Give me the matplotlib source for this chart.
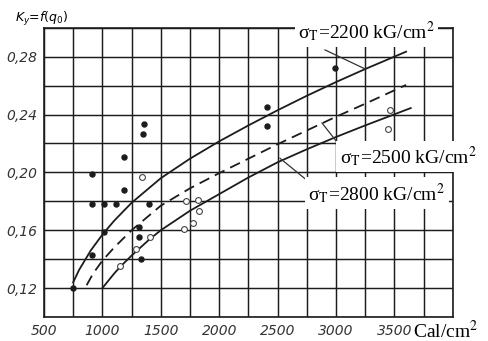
import matplotlib
matplotlib.use("Agg")
import matplotlib.pyplot as plt
from matplotlib import font_manager
import numpy as np

# curves: heat load q0 [Cal/cm^2] vs K_y
q_2200 = [750, 800, 900, 1000, 1100, 1250, 1500, 1750, 2000, 2250, 2500, 2750, 3000, 3250, 3600]
k_2200 = [0.124, 0.1325, 0.146, 0.157, 0.1665, 0.179, 0.196, 0.2095, 0.2215, 0.2325, 0.243, 0.253, 0.2625, 0.2715, 0.2835]

q_2500 = [865, 920, 1000, 1100, 1250, 1500, 1750, 2000, 2250, 2500, 2750, 3000, 3250, 3600]
k_2500 = [0.122, 0.130, 0.139, 0.148, 0.160, 0.177, 0.189, 0.1995, 0.2095, 0.2195, 0.229, 0.2385, 0.2475, 0.2605]

q_2800 = [1000, 1100, 1150, 1250, 1400, 1500, 1750, 2000, 2250, 2500, 2750, 3000, 3250, 3640]
k_2800 = [0.120, 0.130, 0.1345, 0.1425, 0.1535, 0.160, 0.1735, 0.185, 0.1965, 0.207, 0.216, 0.2245, 0.2325, 0.2445]

# measured points
filled_q = [745, 910, 910, 910, 1015, 1015, 1115, 1183, 1183, 1313, 1313, 1334, 1348, 1353, 1399, 2406, 2406, 2991]
filled_k = [0.120, 0.199, 0.178, 0.143, 0.178, 0.159, 0.178, 0.211, 0.188, 0.162, 0.1555, 0.140, 0.2266, 0.2335, 0.178, 0.2455, 0.232, 0.272]

open_q = [1342, 1149, 1291, 1405, 1701, 1715, 1773, 1821, 1830, 3462, 3448]
open_k = [0.197, 0.135, 0.147, 0.1555, 0.161, 0.180, 0.165, 0.181, 0.173, 0.243, 0.230]

x_ticks = [500, 1000, 1500, 2000, 2500, 3000, 3500]
x_labels = ["500", "1000", "1500", "2000", "2500", "3000", "3500"]
y_ticks = [0.12, 0.16, 0.20, 0.24, 0.28]
y_labels = ["0,12", "0,16", "0,20", "0,24", "0,28"]

labels = [r"σ$_\mathrm{T}$=2200 kG/cm$^2$", r"σ$_\mathrm{T}$=2500 kG/cm$^2$", r"σ$_\mathrm{T}$=2800 kG/cm$^2$"]
label_pos = [(2675, 0.2928), (3034, 0.2063), (2763, 0.1809)]
leaders = [((2906, 0.2847), (3248, 0.2716)),
           ((2880, 0.2342), (3008, 0.2210)),
           ((2520, 0.2098), (2749, 0.1947))]

installed = {f.name for f in font_manager.fontManager.ttflist}
tick_font = "Liberation Sans Narrow" if "Liberation Sans Narrow" in installed else "DejaVu Sans"
serif = "Liberation Serif"
plt.rcParams["mathtext.fontset"] = "stix"

fig = plt.figure(figsize=(4.89, 3.41), dpi=100)
ax = fig.add_axes([0.090, 0.0704, 0.836, 0.848])

ink = "#1c1c1c"
ax.plot(q_2200, k_2200, color=ink, lw=1.3, zorder=3)
ax.plot(q_2500, k_2500, color=ink, lw=1.3, dashes=(6, 3.5), zorder=3)
ax.plot(q_2800, k_2800, color=ink, lw=1.3, zorder=3)

ax.plot(filled_q, filled_k, "o", ms=3.6, color=ink, zorder=4)
ax.plot(open_q, open_k, "o", ms=4.2, mfc="white", mec="#444444", mew=0.8, zorder=4)

ax.set_xlim(500, 4000)
ax.set_ylim(0.10, 0.30)
ax.set_xticks(x_ticks)
ax.set_xticklabels(x_labels)
ax.set_xticks(np.arange(500, 4001, 250), minor=True)
ax.set_yticks(y_ticks)
ax.set_yticklabels(y_labels)
ax.set_yticks(np.arange(0.10, 0.301, 0.02), minor=True)
ax.grid(True, which="both", color=ink, lw=1.05)
ax.set_axisbelow(True)
for s in ax.spines.values():
    s.set_color(ink)
    s.set_linewidth(1.2)
ax.tick_params(which="both", length=0, pad=5, colors="#333333")
for t in ax.get_xticklabels() + ax.get_yticklabels():
    t.set_fontfamily(tick_font)
    t.set_fontstyle("italic")
    t.set_fontsize(10)

for (a, b) in leaders:
    ax.plot([a[0], b[0]], [a[1], b[1]], color="#333333", lw=0.9, zorder=3)

for txt, (x, y) in zip(labels, label_pos):
    ax.text(x, y, txt, family=serif, fontsize=14, ha="left", va="baseline", zorder=6,
            bbox=dict(facecolor="white", edgecolor="none", pad=2.5))

ax.text(-0.071, 1.021, r"$K_y$=$f(q_0)$", transform=ax.transAxes, fontsize=9,
        fontstyle="italic", family=tick_font, math_fontfamily="dejavusans", va="baseline")
ax.text(0.902, -0.073, r"Cal/cm$^2$", transform=ax.transAxes, family=serif, fontsize=14,
        va="baseline", ha="left")

fig.savefig("out.png", dpi=100)
